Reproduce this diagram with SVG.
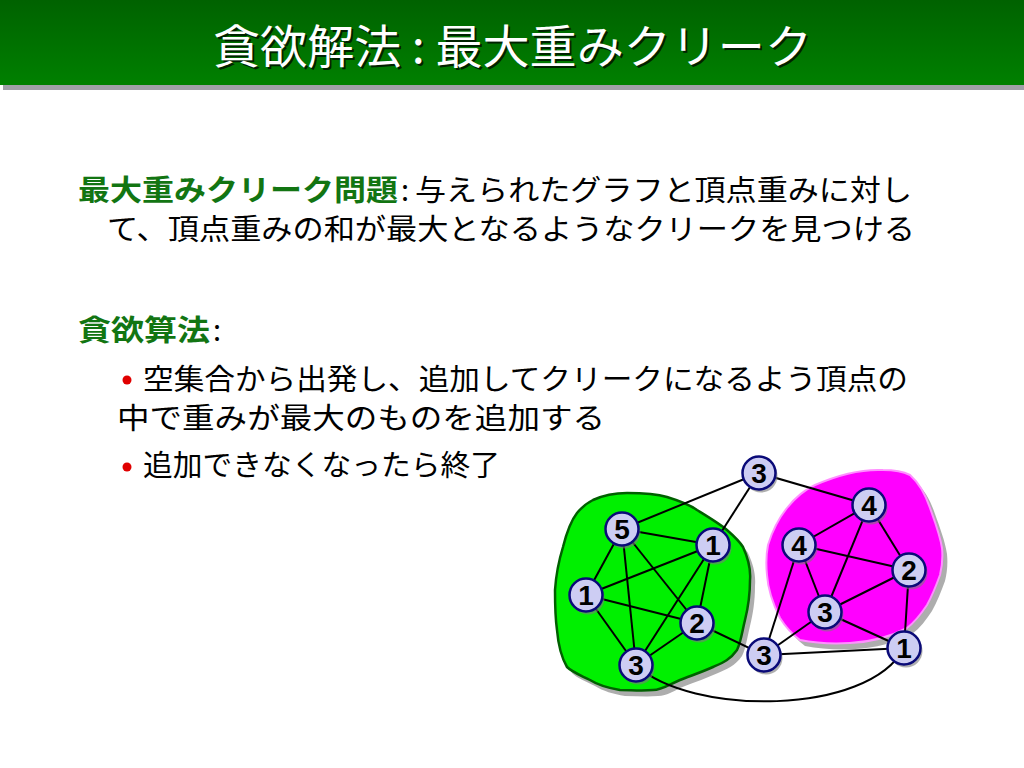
<svg xmlns="http://www.w3.org/2000/svg" width="1024" height="768" viewBox="0 0 1024 768">
  <defs>
    <linearGradient id="bar" x1="0" y1="0" x2="0" y2="1">
      <stop offset="0" stop-color="#006200"/>
      <stop offset="1" stop-color="#008000"/>
    </linearGradient>
    <style>
      .title { font-family: "Noto Sans CJK JP", sans-serif; font-size: 46px; fill: #ffffff; }
      .tshadow { font-family: "Noto Sans CJK JP", sans-serif; font-size: 46px; fill: #002200; }
      .body { font-family: "Noto Sans CJK JP", sans-serif; font-size: 29px; fill: #000000; }
      .head { font-family: "Noto Sans CJK JP", sans-serif; font-size: 29px; font-weight: bold; fill: #127512; }
      .edge { stroke: #000000; stroke-width: 2; fill: none; }
      .nshadow { fill: #7a7a7a; opacity: 0.6; }
      .node { fill: #cdcdf3; stroke: #0a0a78; stroke-width: 2.5; }
      .num { font-family: "Liberation Sans", Arial, sans-serif; font-size: 28px; font-weight: bold; fill: #000000; text-anchor: middle; }
      .bullet { fill: #e00000; }
    </style>
  </defs>

  <rect x="0" y="0" width="1024" height="768" fill="#ffffff"/>

  <!-- title bar -->
  <g id="title-bar">
    <rect x="3" y="5" width="1021" height="85" fill="#a0a0a8"/>
    <rect x="0" y="0" width="1024" height="85" fill="url(#bar)"/>
    <text class="tshadow" x="215" y="65" textLength="599" lengthAdjust="spacingAndGlyphs">貪欲解法 : 最大重みクリーク</text>
    <text class="title" x="213" y="63" textLength="599" lengthAdjust="spacingAndGlyphs">貪欲解法 : 最大重みクリーク</text>
  </g>

  <!-- body text -->
  <g id="text-problem">
    <text class="head" x="78" y="201" textLength="320" lengthAdjust="spacingAndGlyphs">最大重みクリーク問題</text>
    <text class="body" x="401" y="201">:</text>
    <text class="body" x="415" y="201" textLength="497" lengthAdjust="spacingAndGlyphs">与えられたグラフと頂点重みに対し</text>
    <text class="body" x="107" y="240" textLength="808" lengthAdjust="spacingAndGlyphs">て、頂点重みの和が最大となるようなクリークを見つける</text>
  </g>
  <g id="text-greedy">
    <text class="head" x="78" y="341" textLength="132" lengthAdjust="spacingAndGlyphs">貪欲算法</text>
    <text class="body" x="213" y="341">:</text>
    <circle class="bullet" cx="127" cy="380" r="4.5"/>
    <text class="body" x="143" y="390" textLength="765" lengthAdjust="spacingAndGlyphs">空集合から出発し、追加してクリークになるよう頂点の</text>
    <text class="body" x="117" y="429" textLength="488" lengthAdjust="spacingAndGlyphs">中で重みが最大のものを追加する</text>
    <circle class="bullet" cx="127" cy="467" r="4.5"/>
    <text class="body" x="143" y="476" textLength="357" lengthAdjust="spacingAndGlyphs">追加できなくなったら終了</text>
  </g>

  <!-- regions -->
  <g id="region-green">
    <path d="M593,500 C606,494 616,493 627,493 C645,493 657,494 667,497 C680,501 690,505 697,510 C710,518 720,524 727,530 C735,537 740,542 743,547 C748,558 751,568 750,580 C750,595 748,608 745,620 C742,632 741,642 737,650 C730,660 722,663 713,667 C702,672 690,676 680,680 C670,684 662,690 653,690 C642,691 631,690 620,690 C608,688 598,685 590,680 C580,675 572,672 567,667 C560,655 558,642 557,630 C555,616 555,603 555,590 C556,575 559,560 563,547 C566,535 570,522 577,513 C582,507 587,503 593,500 Z" fill="#8a8a8a" opacity="0.7" transform="translate(5,6)"/>
    <path d="M593,500 C606,494 616,493 627,493 C645,493 657,494 667,497 C680,501 690,505 697,510 C710,518 720,524 727,530 C735,537 740,542 743,547 C748,558 751,568 750,580 C750,595 748,608 745,620 C742,632 741,642 737,650 C730,660 722,663 713,667 C702,672 690,676 680,680 C670,684 662,690 653,690 C642,691 631,690 620,690 C608,688 598,685 590,680 C580,675 572,672 567,667 C560,655 558,642 557,630 C555,616 555,603 555,590 C556,575 559,560 563,547 C566,535 570,522 577,513 C582,507 587,503 593,500 Z" fill="#00f000" stroke="#006000" stroke-width="2.5"/>
  </g>
  <g id="region-magenta">
    <path d="M815,485 C840,474 862,469 883,470 C895,470 904,472 910,475 C920,484 926,496 930,508 C935,522 940,535 942,548 C943,558 942,567 940,575 C936,586 932,596 927,605 C921,614 915,622 907,628 C890,637 870,642 850,643 C833,644 815,643 800,640 C792,634 785,626 780,618 C773,604 768,590 767,575 C766,565 766,555 768,545 C772,532 779,518 787,508 C795,498 804,490 815,485 Z" fill="#8a8a8a" opacity="0.7" transform="translate(5,6)"/>
    <path d="M815,485 C840,474 862,469 883,470 C895,470 904,472 910,475 C920,484 926,496 930,508 C935,522 940,535 942,548 C943,558 942,567 940,575 C936,586 932,596 927,605 C921,614 915,622 907,628 C890,637 870,642 850,643 C833,644 815,643 800,640 C792,634 785,626 780,618 C773,604 768,590 767,575 C766,565 766,555 768,545 C772,532 779,518 787,508 C795,498 804,490 815,485 Z" fill="#ff00ff" stroke="#ff90ff" stroke-width="2"/>
  </g>

  <!-- connectors -->
  <g id="connectors">
    <line class="edge" x1="759" y1="473" x2="622" y2="529"/>
    <line class="edge" x1="759" y1="473" x2="713" y2="545"/>
    <line class="edge" x1="759" y1="473" x2="869" y2="505"/>
    <line class="edge" x1="622" y1="529" x2="713" y2="545"/>
    <line class="edge" x1="622" y1="529" x2="586" y2="595"/>
    <line class="edge" x1="622" y1="529" x2="636" y2="665"/>
    <line class="edge" x1="622" y1="529" x2="697" y2="623"/>
    <line class="edge" x1="713" y1="545" x2="586" y2="595"/>
    <line class="edge" x1="713" y1="545" x2="697" y2="623"/>
    <line class="edge" x1="713" y1="545" x2="636" y2="665"/>
    <line class="edge" x1="586" y1="595" x2="697" y2="623"/>
    <line class="edge" x1="586" y1="595" x2="636" y2="665"/>
    <line class="edge" x1="697" y1="623" x2="636" y2="665"/>
    <line class="edge" x1="697" y1="623" x2="764" y2="655"/>
    <line class="edge" x1="764" y1="655" x2="799" y2="545"/>
    <line class="edge" x1="764" y1="655" x2="825" y2="612"/>
    <line class="edge" x1="764" y1="655" x2="904" y2="648"/>
    <line class="edge" x1="869" y1="505" x2="799" y2="545"/>
    <line class="edge" x1="869" y1="505" x2="909" y2="570"/>
    <line class="edge" x1="869" y1="505" x2="825" y2="612"/>
    <line class="edge" x1="799" y1="545" x2="909" y2="570"/>
    <line class="edge" x1="799" y1="545" x2="825" y2="612"/>
    <line class="edge" x1="909" y1="570" x2="825" y2="612"/>
    <line class="edge" x1="909" y1="570" x2="904" y2="648"/>
    <line class="edge" x1="825" y1="612" x2="904" y2="648"/>
    <path class="edge" d="M636,665 C690,716 868,716 904,648"/>
  </g>

  <!-- nodes -->
  <g id="n-top3"><circle class="nshadow" cx="761" cy="476" r="16.5"/><circle class="node" cx="759" cy="473" r="16.5"/><text class="num" x="759" y="483">3</text></g>
  <g id="n-g5"><circle class="nshadow" cx="624" cy="532" r="16.5"/><circle class="node" cx="622" cy="529" r="16.5"/><text class="num" x="622" y="539">5</text></g>
  <g id="n-g1a"><circle class="nshadow" cx="715" cy="548" r="16.5"/><circle class="node" cx="713" cy="545" r="16.5"/><text class="num" x="713" y="555">1</text></g>
  <g id="n-g1b"><circle class="nshadow" cx="588" cy="598" r="16.5"/><circle class="node" cx="586" cy="595" r="16.5"/><text class="num" x="586" y="605">1</text></g>
  <g id="n-g2"><circle class="nshadow" cx="699" cy="626" r="16.5"/><circle class="node" cx="697" cy="623" r="16.5"/><text class="num" x="697" y="633">2</text></g>
  <g id="n-g3"><circle class="nshadow" cx="638" cy="668" r="16.5"/><circle class="node" cx="636" cy="665" r="16.5"/><text class="num" x="636" y="675">3</text></g>
  <g id="n-mid3"><circle class="nshadow" cx="766" cy="658" r="16.5"/><circle class="node" cx="764" cy="655" r="16.5"/><text class="num" x="764" y="665">3</text></g>
  <g id="n-m4a"><circle class="nshadow" cx="871" cy="508" r="16.5"/><circle class="node" cx="869" cy="505" r="16.5"/><text class="num" x="869" y="515">4</text></g>
  <g id="n-m4b"><circle class="nshadow" cx="801" cy="548" r="16.5"/><circle class="node" cx="799" cy="545" r="16.5"/><text class="num" x="799" y="555">4</text></g>
  <g id="n-m2"><circle class="nshadow" cx="911" cy="573" r="16.5"/><circle class="node" cx="909" cy="570" r="16.5"/><text class="num" x="909" y="580">2</text></g>
  <g id="n-m3"><circle class="nshadow" cx="827" cy="615" r="16.5"/><circle class="node" cx="825" cy="612" r="16.5"/><text class="num" x="825" y="622">3</text></g>
  <g id="n-br1"><circle class="nshadow" cx="906" cy="651" r="16.5"/><circle class="node" cx="904" cy="648" r="16.5"/><text class="num" x="904" y="658">1</text></g>
</svg>
